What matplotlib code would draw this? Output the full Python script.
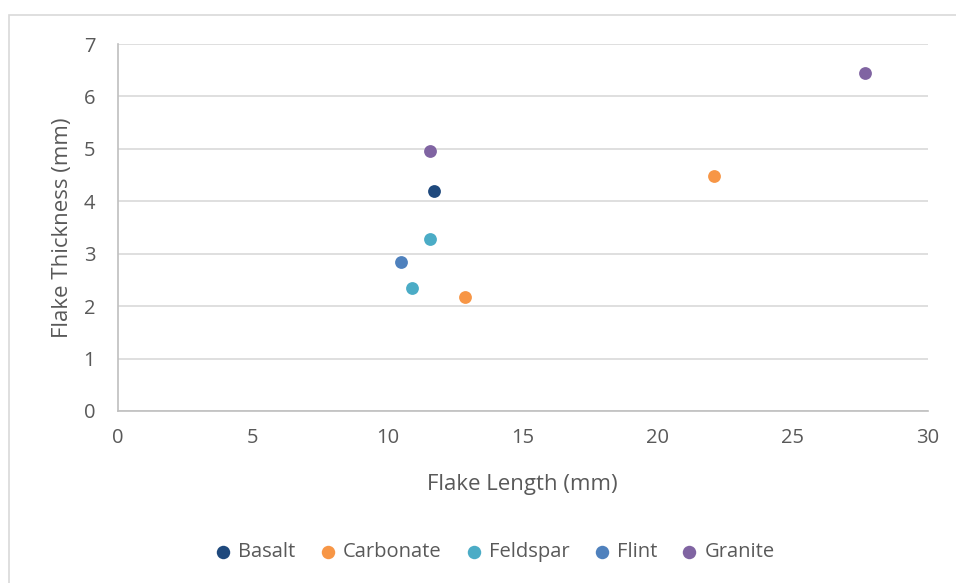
import matplotlib.pyplot as plt
from matplotlib.patches import Rectangle

# data
basalt_x = [11.71]
basalt_y = [4.19]
carbonate_x = [12.85, 22.08]
carbonate_y = [2.18, 4.49]
feldspar_x = [11.57, 10.90]
feldspar_y = [3.29, 2.35]
flint_x = [10.48]
flint_y = [2.84]
granite_x = [11.55, 27.66]
granite_y = [4.96, 6.44]

series = [
    ('Basalt', basalt_x, basalt_y, '#1F497D'),
    ('Carbonate', carbonate_x, carbonate_y, '#F79646'),
    ('Feldspar', feldspar_x, feldspar_y, '#4BACC6'),
    ('Flint', flint_x, flint_y, '#4F81BD'),
    ('Granite', granite_x, granite_y, '#8064A2'),
]

x_ticks = [0, 5, 10, 15, 20, 25, 30]
y_ticks = [0, 1, 2, 3, 4, 5, 6, 7]

text_color = '#595959'
grid_color = '#D9D9D9'
plt.rcParams['font.family'] = ['Open Sans', 'DejaVu Sans']

fig = plt.figure(figsize=(9.56, 5.83), dpi=100)

# outer chart border (cut off on the right and bottom)
fig.patches.append(Rectangle((9 / 956, -0.05), 1.0, 1 - 15 / 583 + 0.05,
                             transform=fig.transFigure, fill=False,
                             edgecolor=grid_color, linewidth=1.2))

ax = fig.add_axes([117.5 / 956, 1 - 411 / 583, (928 - 117.5) / 956, (411 - 44) / 583])

for name, xs, ys, color in series:
    ax.scatter(xs, ys, s=85, color=color, label=name, zorder=3, linewidths=0)

ax.set_xlim(0, 30)
ax.set_ylim(0, 7)
ax.set_xticks(x_ticks)
ax.set_yticks(y_ticks)
ax.grid(axis='y', color=grid_color, linewidth=1.2)
ax.set_axisbelow(True)
for side in ['top', 'right']:
    ax.spines[side].set_visible(False)
for side in ['left', 'bottom']:
    ax.spines[side].set_color('#BFBFBF')
    ax.spines[side].set_linewidth(1.2)
ax.tick_params(length=0, labelsize=14.5, colors=text_color)
ax.tick_params(axis='x', pad=12)
ax.tick_params(axis='y', pad=16)

ax.set_xlabel('Flake Length (mm)', fontsize=16, color=text_color, labelpad=19)
ax.set_ylabel('Flake Thickness (mm)', fontsize=16, color=text_color, labelpad=8)

ax.legend(loc='center', bbox_to_anchor=(0.518, 1 - 552 / 583), bbox_transform=fig.transFigure,
          ncol=5, frameon=False, fontsize=14.5, labelcolor=text_color,
          handlelength=0.7, handletextpad=0.4, columnspacing=1.25, markerscale=1.05)

fig.savefig('out.png', dpi=100)
